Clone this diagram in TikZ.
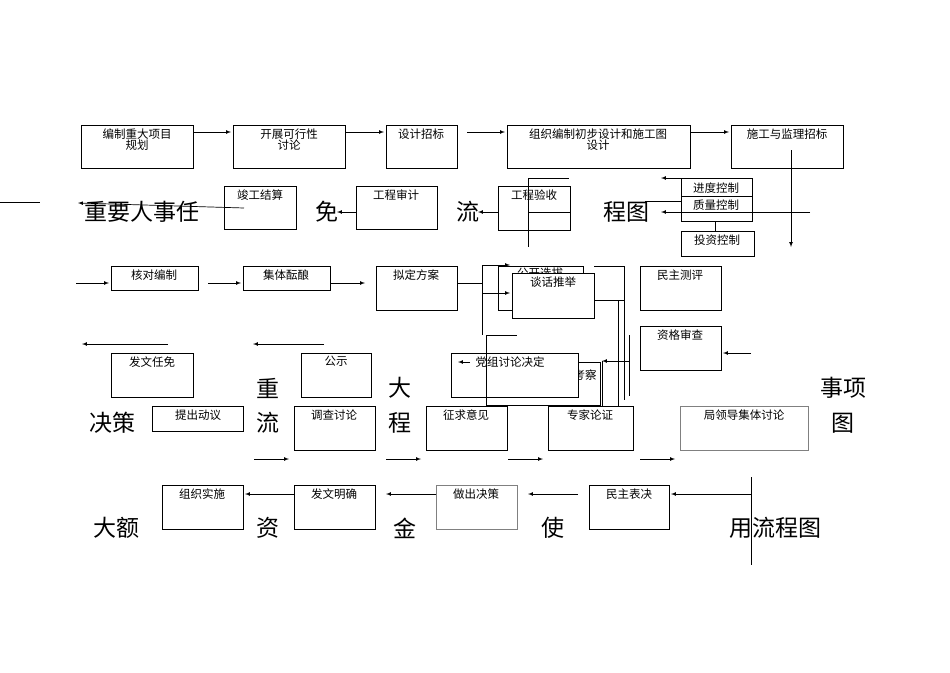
\documentclass[tikz,border=0pt]{standalone}
\usepackage{fontspec}
\setmainfont{Noto Sans CJK SC}
\begin{document}
\begin{tikzpicture}[x=1pt,y=-1pt,
  bx/.style={draw,line width=0.8pt},
  lb/.style={anchor=north,font=\fontsize{11.5}{11.5}\selectfont,align=center,inner sep=1pt},
  big/.style={font=\fontsize{23}{23}\selectfont,inner sep=0pt},
  ar/.style={-latex,line width=0.7pt},
  ln/.style={line width=0.7pt}]
\useasboundingbox (0,0) rectangle (950,672);
% row 1
\draw[bx] (81,125) rectangle (193,168) node[lb] (b1) at (137,127) {编制重大项目\\规划};
\draw[bx] (233,125) rectangle (345,168) node[lb] (b2) at (289,127) {开展可行性\\讨论};
\draw[bx] (386,125) rectangle (457,168) node[lb] (b3) at (421,127) {设计招标};
\draw[bx] (507,125) rectangle (690,168) node[lb] (b4) at (598,127) {组织编制初步设计和施工图\\设计};
\draw[bx] (731,125) rectangle (843,168) node[lb] (b5) at (787,127) {施工与监理招标};
\draw[ar] (193,132) -- (231,132);
\draw[ar] (345,132) -- (384,132);
\draw[ar] (467,132) -- (505,132);
\draw[ar] (690,132) -- (729,132);
\draw[ar] (791,150) -- (791,247);
% row 2
\draw[bx] (224,186) rectangle (296,229) node[lb] at (260,188) {竣工结算};
\draw[bx] (356,186) rectangle (437,229) node[lb] at (396,188) {工程审计};
\draw[bx] (498,186) rectangle (570,230) node[lb] at (534,188) {工程验收};
\draw[ln] (528,212) -- (570,212); \draw[ln] (528,178) -- (528,247); \draw[ln] (528,178) -- (569,178);
\draw[bx] (681,178) rectangle (752,196) node[lb] at (716,181) {进度控制};
\draw[bx] (681,196) rectangle (752,221) node[lb] at (716,198) {质量控制};
\draw[bx] (681,231) rectangle (754,256) node[lb] at (717,233) {投资控制};
\draw[ln] (715,221) -- (715,231);
\draw[ar] (681,178) -- (661,178);
\draw[ln] (810,212) -- (681,212); \draw[ar] (681,212) -- (661,212);
\draw[ln] (645,201) -- (681,201);
\node[big,anchor=west] (t1) at (84,212) {重要人事任};
\node[big] (t2) at (327,212) {免};
\node[big] (t3) at (468,212) {流};
\node[big] (t4) at (626,212) {程图};
\draw[ar] (244,208) -- (78,203);
\draw[ar] (356,212) -- (337,212);
\draw[ar] (498,212) -- (478,212);
\draw[ln] (0,202) -- (40,202);
% row 3
\draw[bx] (111,266) rectangle (198,290) node[lb] at (154,268) {核对编制};
\draw[bx] (243,266) rectangle (330,290) node[lb] at (286,268) {集体酝酿};
\draw[bx] (376,266) rectangle (457,310) node[lb] at (416,268) {拟定方案};
\draw[bx] (640,266) rectangle (721,310) node[lb] at (680,268) {民主测评};
\draw[ar] (76,283) -- (109,283);
\draw[ar] (208,283) -- (241,283);
\draw[ar] (330,283) -- (365,283);
\draw[ln] (457,283) -- (482,283); \draw[ln] (482,266) -- (482,335);
\draw[ar] (482,265) -- (510,265); \draw[ar] (482,293) -- (510,293);
\draw[bx] (498,266) rectangle (583,310) node[lb] at (540,266) {公开选拔};
\draw[bx,fill=white] (512,273) rectangle (594,318) node[lb] at (553,275) {谈话推举};
\draw[ln] (594,266) -- (624,266) -- (624,400); \draw[ln] (594,300) -- (624,300);
\draw[bx] (640,326) rectangle (721,370) node[lb] at (680,328) {资格审查};
\draw[ar] (751,353) -- (723,353);
\draw[ar] (168,344) -- (82,344);
\draw[ar] (324,344) -- (253,344);
\draw[bx] (111,353) rectangle (193,397) node[lb] at (152,355) {发文任免};
\draw[bx] (301,353) rectangle (371,397) node[lb] at (336,355) {公示};
\draw[bx] (486,362) rectangle (600,405) node[lb,anchor=east] at (598,375) {考察};
\draw[bx,fill=white] (451,353) rectangle (578,397) node[lb] at (510,355) {党组讨论决定};
\draw[ln] (486,335) -- (517,335); \draw[ln] (486,335) -- (486,397);
\draw[ar] (629,361) -- (602,361); \draw[ln] (629,335) -- (629,396); \draw[ln] (602,361) -- (602,406);
\draw[ln] (618,300) -- (618,406);
\draw[ar] (470,362) -- (458,362);
% row 4
\node[big] at (112,423) {决策};
\draw[bx] (152,406) rectangle (243,431) node[lb] at (198,408) {提出动议};
\node[big] at (268,388) {重}; \node[big] at (268,423) {流};
\draw[bx] (294,406) rectangle (375,450) node[lb] at (334,408) {调查讨论};
\node[big] at (400,388) {大}; \node[big] at (400,423) {程};
\draw[bx] (426,406) rectangle (507,450) node[lb] at (466,408) {征求意见};
\draw[bx] (548,406) rectangle (633,450) node[lb] at (590,408) {专家论证};
\draw[bx,draw=gray] (680,406) rectangle (808,450) node[lb] at (744,408) {局领导集体讨论};
\node[big] at (843,388) {事项}; \node[big] at (843,423) {图};
\draw[ar] (254,459) -- (289,459);
\draw[ar] (386,459) -- (421,459);
\draw[ar] (508,459) -- (543,459);
\draw[ar] (640,459) -- (675,459);
% row 5
\draw[bx] (162,485) rectangle (243,529) node[lb] at (202,487) {组织实施};
\draw[bx] (294,485) rectangle (375,529) node[lb] at (334,487) {发文明确};
\draw[bx,draw=gray] (436,485) rectangle (517,529) node[lb] at (476,487) {做出决策};
\draw[bx] (589,485) rectangle (669,529) node[lb] at (629,487) {民主表决};
\draw[ar] (294,494) -- (245,494);
\draw[ar] (436,494) -- (386,494);
\draw[ar] (578,494) -- (528,494);
\draw[ar] (751,494) -- (671,494);
\node[big] at (116,528) {大额};
\node[big] at (268,528) {资};
\node[big] at (405,528) {金};
\node[big] at (553,528) {使};
\node[big] at (775,528) {用流程图};
\draw[ln] (751,477) -- (751,565);
\end{tikzpicture}
\end{document}
